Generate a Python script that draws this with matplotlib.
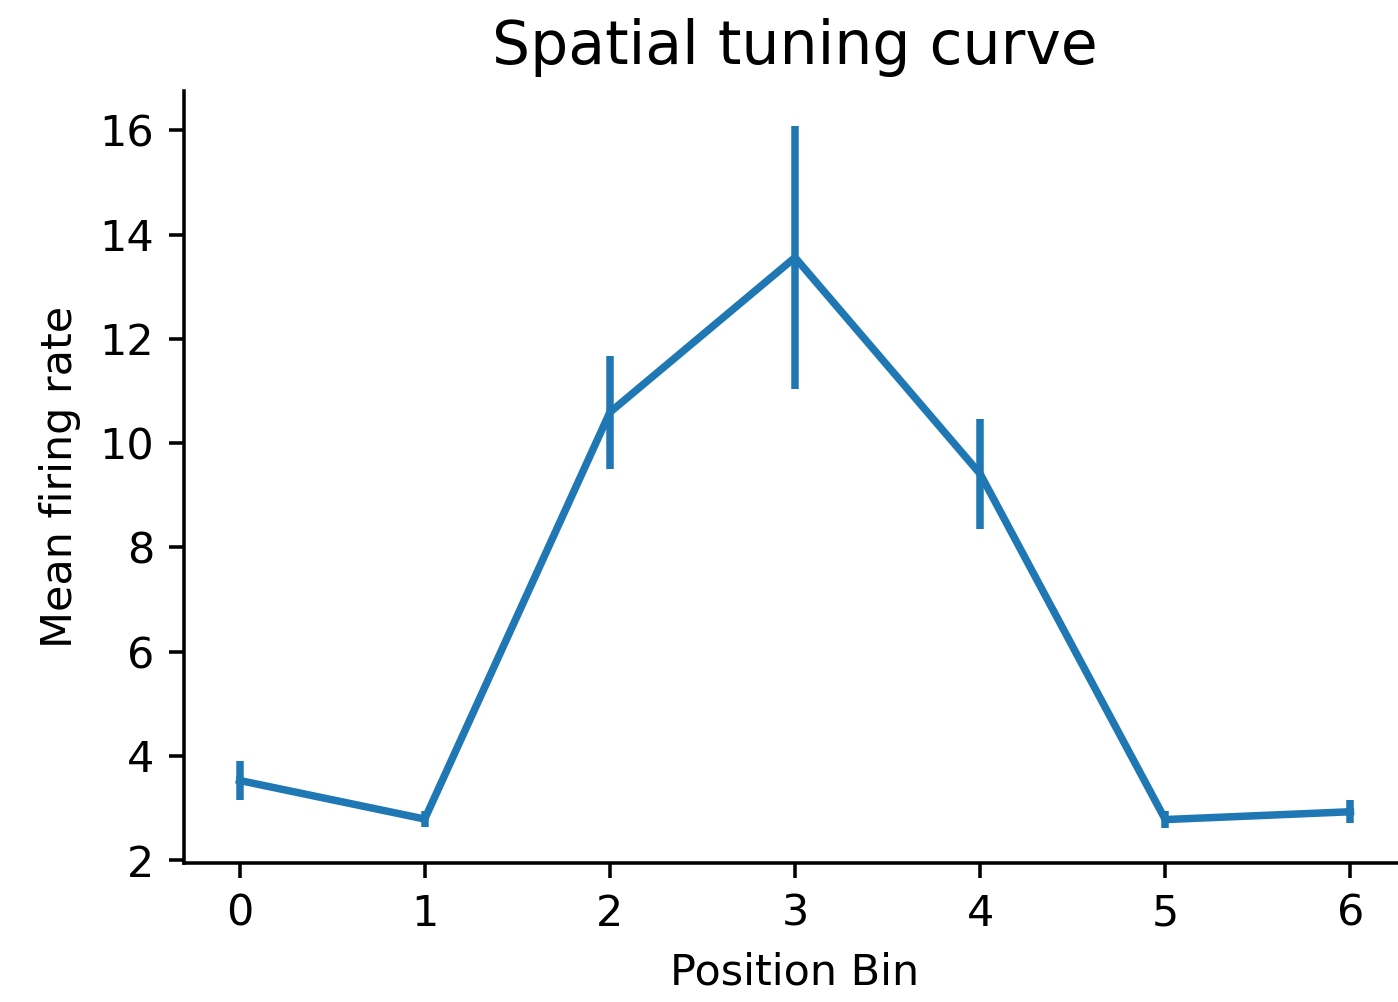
import matplotlib
matplotlib.use("Agg")
import matplotlib.pyplot as plt

# Mean firing rate per spatial bin, with error bars
position_bins = [0, 1, 2, 3, 4, 5, 6]
mean_rate = [3.53, 2.79, 10.59, 13.56, 9.41, 2.78, 2.93]
rate_err = [0.38, 0.15, 1.08, 2.52, 1.05, 0.16, 0.22]

plt.rcParams.update({
    "font.size": 10.3,
    "axes.linewidth": 0.85,
    "xtick.major.size": 3.7,
    "ytick.major.size": 3.7,
    "xtick.major.width": 0.85,
    "ytick.major.width": 0.85,
})

fig = plt.figure(figsize=(1398 / 300, 1002 / 300), dpi=300)
ax = fig.add_axes([184 / 1398, 139 / 1002, 1222 / 1398, 772 / 1002])

ax.errorbar(position_bins, mean_rate, yerr=rate_err, color="#1f77b4",
            linewidth=1.8, elinewidth=1.8, capsize=0)

ax.set_title("Spatial tuning curve", fontsize=14.4, pad=6.5)
ax.set_xlabel("Position Bin", labelpad=4)
ax.set_ylabel("Mean firing rate", labelpad=4.5)
ax.spines["top"].set_visible(False)
ax.spines["right"].set_visible(False)

fig.savefig("out.png", dpi=300)
